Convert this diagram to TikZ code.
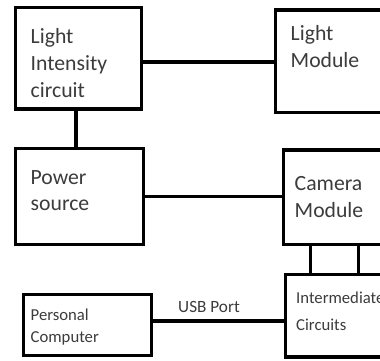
\documentclass[tikz,border=0pt]{standalone}
\usepackage{fontspec}
\setmainfont{Carlito}
\definecolor{txt}{HTML}{3C3C3C}
\begin{document}
\begin{tikzpicture}[x=1pt,y=-1pt,
  blk/.style={draw=black,line width=3.3pt,inner sep=0pt,minimum width=#1},
  conn/.style={draw=black,line width=3.2pt},
  big/.style={anchor=base west,inner sep=0pt,text=txt,font=\fontsize{21.7}{27}\selectfont},
  small/.style={anchor=base west,inner sep=0pt,text=txt,font=\fontsize{16.7}{20}\selectfont}]
\useasboundingbox (0,0) rectangle (380,360);
\clip (0,0) rectangle (380,360);
\fill[white] (0,0) rectangle (380,360);
% boxes
\node[blk=126pt,minimum height=101.5pt] (LI) at (78.5,58.25) {};
\node[blk=120pt,minimum height=102.5pt] (LM) at (335.5,61.25) {};
\node[blk=128pt,minimum height=96pt] (PS) at (79.5,196.5) {};
\node[blk=112pt,minimum height=94.5pt] (CM) at (339.5,197.25) {};
\node[blk=110pt,minimum height=82.5pt] (IC) at (340.5,315.75) {};
\node[blk=128pt,minimum height=61pt] (PC) at (87.5,325) {};
% texts
\node[big] (t1) at (30.5,43) {Light};
\node[big] (t2) at (30.5,70.5) {Intensity};
\node[big] (t3) at (30.5,97) {circuit};
\node[big] (t4) at (290.5,40.5) {Light};
\node[big] (t5) at (290.5,67) {Module};
\node[big] (t6) at (30.5,184) {Power};
\node[big] (t7) at (30.5,210) {source};
\node[big] (t8) at (294.5,190) {Camera};
\node[big] (t9) at (294.5,217) {Module};
\node[small] (t10) at (296,303) {Intermediate};
\node[small] (t11) at (296,330) {Circuits};
\node[small] (t12) at (30.5,320.5) {Personal};
\node[small] (t13) at (30.5,342.5) {Computer};
% connectors
\path (LI.east) ++(0,3.75) coordinate (c1);
\draw[conn] (c1) -- (c1 -| LM.west);
\path (LI.south) ++(-2.5,0) coordinate (c2);
\draw[conn] (c2) -- (c2 |- PS.north);
\draw[conn] (PS.east) -- (PS.east -| CM.west);
\path (CM.south west) ++(29,0) coordinate (c3);
\draw[conn] (c3) -- (c3 |- IC.north);
\path (CM.south west) ++(76.5,0) coordinate (c4);
\draw[conn] (c4) -- (c4 |- IC.north);
\path (PC.east) ++(0,-4) coordinate (c5);
\draw[conn] (c5) -- (c5 -| IC.west);
\node[small,anchor=base,font=\fontsize{17.2}{20}\selectfont] (usb) at (209,312) {USB Port};
\end{tikzpicture}
\end{document}
